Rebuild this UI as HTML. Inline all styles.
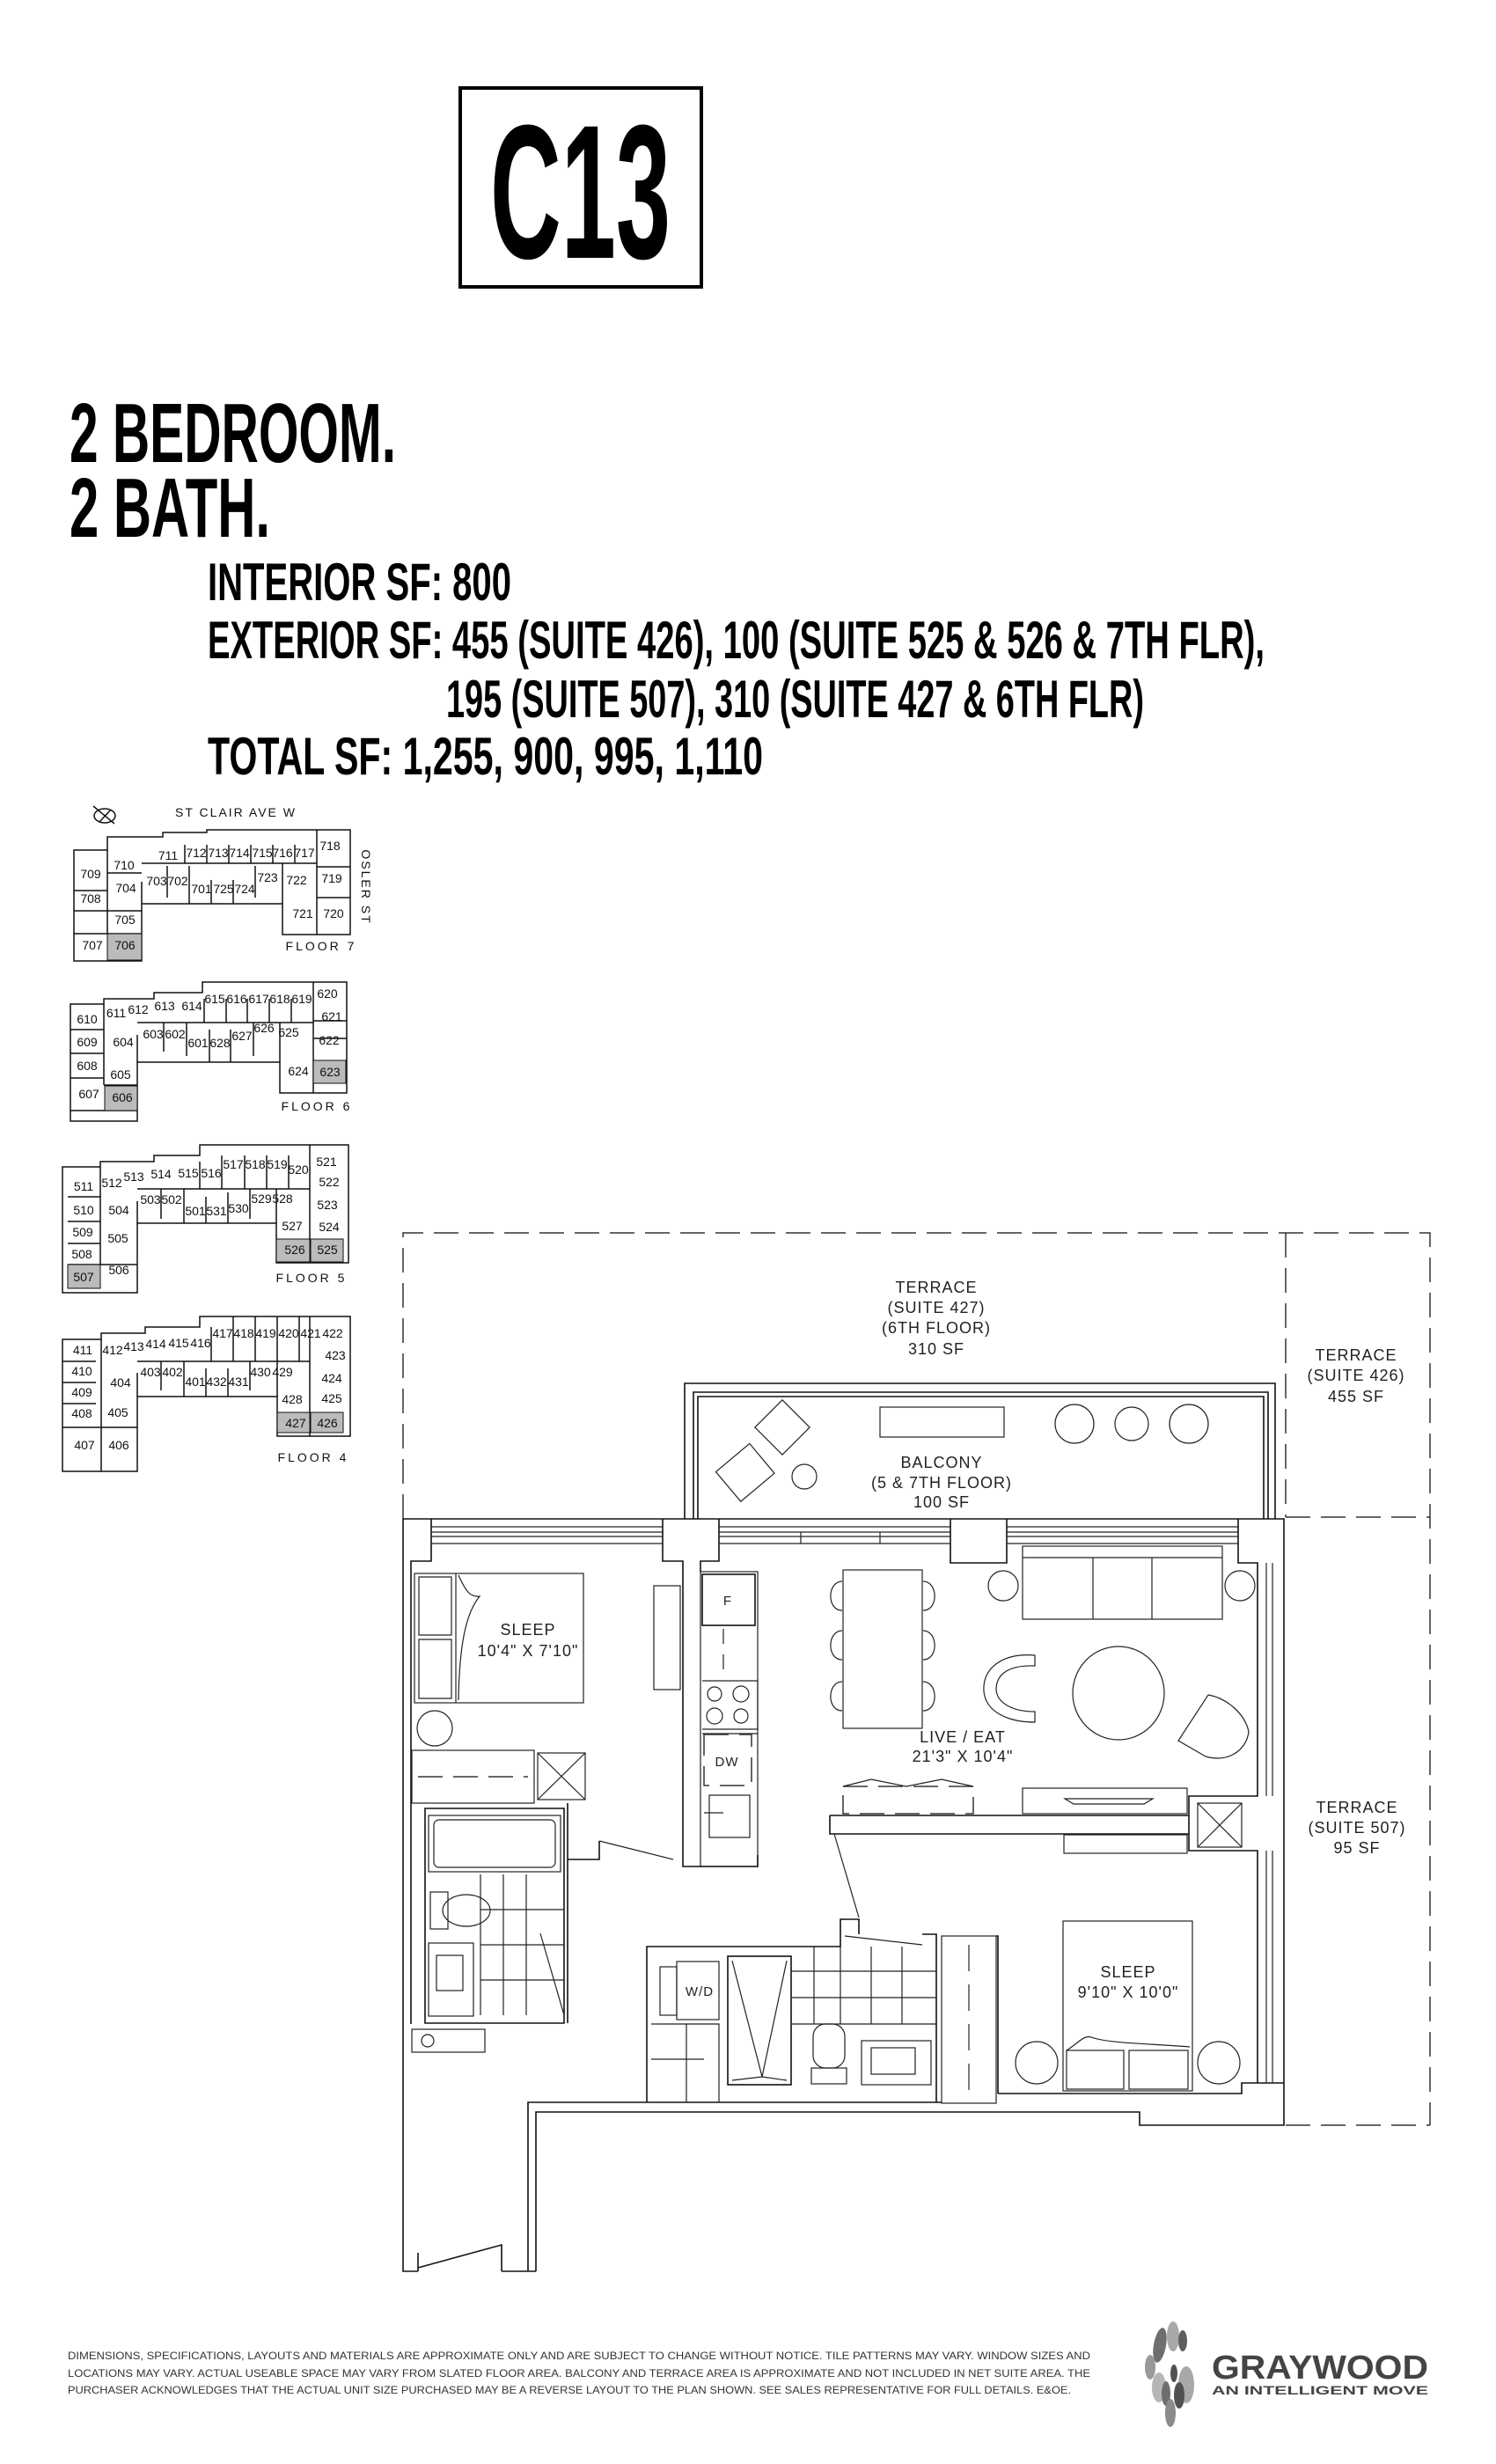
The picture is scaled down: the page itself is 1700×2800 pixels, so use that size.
<!DOCTYPE html>
<html><head><meta charset="utf-8"><style>
html,body{margin:0;padding:0;background:#fff}
svg{display:block}
.h{font-family:"Liberation Sans Narrow","Liberation Sans",sans-serif;font-weight:bold;fill:#000}
.t{font-family:"Liberation Sans Narrow","Liberation Sans",sans-serif;fill:#222;font-size:18px;text-anchor:middle;letter-spacing:1px}
.k{font-family:"Liberation Sans Narrow","Liberation Sans",sans-serif;fill:#111;font-size:14px;text-anchor:middle}
.w{fill:none;stroke:#111;stroke-width:1.6}
.f{fill:none;stroke:#222;stroke-width:1.2}
.d{fill:none;stroke:#333;stroke-width:1.5;stroke-dasharray:28,12}
.kp{fill:none;stroke:#111;stroke-width:1.5}
</style></head><body>
<svg width="1700" height="2800" viewBox="0 0 1700 2800" xmlns="http://www.w3.org/2000/svg">
<rect x="523" y="100" width="274" height="226" fill="none" stroke="#000" stroke-width="4"/>
<text class="h" x="557" y="293" font-size="217" textLength="205" lengthAdjust="spacingAndGlyphs">C13</text>
<text class="h" x="79" y="525" font-size="96" textLength="371" lengthAdjust="spacingAndGlyphs">2 BEDROOM.</text>
<text class="h" x="79" y="610" font-size="96" textLength="228" lengthAdjust="spacingAndGlyphs">2 BATH.</text>
<text class="h" x="236" y="682" font-size="60" textLength="345" lengthAdjust="spacingAndGlyphs">INTERIOR SF: 800</text>
<text class="h" x="236" y="748" font-size="60" textLength="1201" lengthAdjust="spacingAndGlyphs">EXTERIOR SF: 455 (SUITE 426), 100 (SUITE 525 &amp; 526  &amp; 7TH FLR),</text>
<text class="h" x="507" y="815" font-size="60" textLength="793" lengthAdjust="spacingAndGlyphs">195 (SUITE 507), 310 (SUITE 427 &amp; 6TH FLR)</text>
<text class="h" x="236" y="880" font-size="60" textLength="631" lengthAdjust="spacingAndGlyphs">TOTAL SF: 1,255, 900, 995, 1,110</text>

<g>
<ellipse cx="119" cy="927" rx="12" ry="8" class="kp"/><line x1="106" y1="916" x2="130" y2="936" class="kp"/><line x1="113" y1="934" x2="126" y2="920" class="kp"/>
<text class="k" x="268" y="928" font-size="14" letter-spacing="2">ST CLAIR AVE W</text>
<text class="k" x="0" y="0" font-size="14" letter-spacing="2" transform="translate(411,1008) rotate(90)">OSLER ST</text>
<path class="kp" d="M84,966 H122 V951 H185 V946 H235 V943 H398 V1062 H321 V1027 H161 V1092 H84 Z"/>
<path class="kp" d="M122,966 V1061 M161,981 H360 M161,1002 V1027 M321,981 V1027 M360,943 V1062 M84,1012 H122 M84,1035 H122 M84,1061 H161 M360,1020 H398 M360,985 H398 M122,992 H161 M122,1035 H161 M210,960 V981 M235,960 V981 M260,960 V981 M285,960 V981 M310,960 V981 M335,960 V981 M190,984 V1020 M215,984 V1027 M240,1000 V1027 M265,1000 V1027 M290,984 V1020"/>
<rect x="122" y="1061" width="39" height="30" fill="#bbb" stroke="#111"/>
<text class="k" x="103" y="998">709</text><text class="k" x="141" y="988">710</text><text class="k" x="191" y="977">711</text><text class="k" x="223" y="974">712</text><text class="k" x="248" y="974">713</text><text class="k" x="272" y="974">714</text><text class="k" x="298" y="974">715</text><text class="k" x="321" y="974">716</text><text class="k" x="346" y="974">717</text><text class="k" x="375" y="966">718</text><text class="k" x="377" y="1003">719</text><text class="k" x="379" y="1043">720</text><text class="k" x="344" y="1043">721</text><text class="k" x="337" y="1005">722</text><text class="k" x="304" y="1002">723</text><text class="k" x="278" y="1015">724</text><text class="k" x="254" y="1015">725</text><text class="k" x="229" y="1015">701</text><text class="k" x="202" y="1006">702</text><text class="k" x="178" y="1006">703</text><text class="k" x="143" y="1014">704</text><text class="k" x="142" y="1050">705</text><text class="k" x="142" y="1079">706</text><text class="k" x="105" y="1079">707</text><text class="k" x="103" y="1026">708</text>
<text class="k" x="365" y="1080" font-size="15" letter-spacing="3">FLOOR 7</text>

<path class="kp" d="M80,1141 H118 V1135 H175 V1128 H230 V1116 H394 V1242 H318 V1207 H156 V1274 H80 Z"/>
<path class="kp" d="M118,1141 V1233 M156,1162 H356 M156,1176 V1207 M318,1162 V1207 M356,1116 V1242 M80,1170 H118 M80,1197 H118 M80,1225 H118 M118,1233 H156 M356,1160 H394 M356,1180 H394 M80,1262 H156 M232,1135 V1162 M257,1135 V1162 M281,1135 V1162 M306,1135 V1162 M331,1135 V1162 M186,1162 V1195 M212,1162 V1200 M238,1170 V1207 M262,1170 V1207 M288,1162 V1200"/>
<rect x="119" y="1234" width="37" height="28" fill="#bbb" stroke="#111"/>
<rect x="356" y="1205" width="37" height="26" fill="#bbb" stroke="#111"/>
<text class="k" x="99" y="1163">610</text><text class="k" x="132" y="1156">611</text><text class="k" x="157" y="1152">612</text><text class="k" x="187" y="1148">613</text><text class="k" x="218" y="1148">614</text><text class="k" x="244" y="1140">615</text><text class="k" x="269" y="1140">616</text><text class="k" x="294" y="1140">617</text><text class="k" x="318" y="1140">618</text><text class="k" x="343" y="1140">619</text><text class="k" x="372" y="1134">620</text><text class="k" x="377" y="1160">621</text><text class="k" x="374" y="1187">622</text><text class="k" x="375" y="1223">623</text><text class="k" x="339" y="1222">624</text><text class="k" x="328" y="1178">625</text><text class="k" x="300" y="1173">626</text><text class="k" x="275" y="1182">627</text><text class="k" x="250" y="1190">628</text><text class="k" x="225" y="1190">601</text><text class="k" x="199" y="1180">602</text><text class="k" x="174" y="1180">603</text><text class="k" x="140" y="1189">604</text><text class="k" x="137" y="1226">605</text><text class="k" x="139" y="1252">606</text><text class="k" x="101" y="1248">607</text><text class="k" x="99" y="1216">608</text><text class="k" x="99" y="1189">609</text>
<text class="k" x="360" y="1262" font-size="15" letter-spacing="3">FLOOR 6</text>

<path class="kp" d="M71,1326 H114 V1320 H175 V1313 H227 V1301 H396 V1435 H314 V1390 H156 V1469 H71 Z" stroke-width="2.2"/>
<path class="kp" d="M114,1326 V1437 M156,1351 H352 M156,1365 V1390 M314,1351 V1390 M352,1301 V1435 M77,1360 H114 M77,1388 H114 M77,1413 H114 M77,1437 H156 M227,1320 V1351 M252,1313 V1351 M278,1313 V1351 M303,1313 V1351 M328,1313 V1351 M183,1351 V1385 M209,1351 V1390 M234,1360 V1390 M259,1355 V1390 M284,1351 V1385"/>
<rect x="77" y="1437" width="37" height="27" fill="#bbb" stroke="#111"/>
<rect x="314" y="1408" width="38" height="26" fill="#bbb" stroke="#111"/>
<rect x="353" y="1408" width="37" height="26" fill="#bbb" stroke="#111"/>
<text class="k" x="95" y="1353">511</text><text class="k" x="127" y="1349">512</text><text class="k" x="152" y="1342">513</text><text class="k" x="183" y="1339">514</text><text class="k" x="214" y="1338">515</text><text class="k" x="240" y="1338">516</text><text class="k" x="265" y="1328">517</text><text class="k" x="290" y="1328">518</text><text class="k" x="315" y="1328">519</text><text class="k" x="339" y="1334">520</text><text class="k" x="371" y="1325">521</text><text class="k" x="374" y="1348">522</text><text class="k" x="372" y="1374">523</text><text class="k" x="374" y="1399">524</text><text class="k" x="372" y="1425">525</text><text class="k" x="335" y="1425">526</text><text class="k" x="332" y="1398">527</text><text class="k" x="321" y="1367">528</text><text class="k" x="297" y="1367">529</text><text class="k" x="271" y="1378">530</text><text class="k" x="246" y="1381">531</text><text class="k" x="222" y="1381">501</text><text class="k" x="195" y="1368">502</text><text class="k" x="171" y="1368">503</text><text class="k" x="135" y="1380">504</text><text class="k" x="134" y="1412">505</text><text class="k" x="135" y="1448">506</text><text class="k" x="95" y="1456">507</text><text class="k" x="93" y="1430">508</text><text class="k" x="94" y="1405">509</text><text class="k" x="95" y="1380">510</text>
<text class="k" x="354" y="1457" font-size="15" letter-spacing="3">FLOOR 5</text>

<path class="kp" d="M71,1522 H115 V1515 H165 V1508 H227 V1496 H398 V1632 H315 V1587 H156 V1672 H71 Z"/>
<path class="kp" d="M115,1522 V1635 M156,1547 H352 M156,1560 V1587 M315,1547 V1587 M352,1496 V1632 M71,1547 H109 M71,1571 H109 M71,1595 H109 M71,1622 H156 M115,1622 V1672 M240,1508 V1547 M265,1496 V1547 M290,1496 V1547 M315,1496 V1547 M340,1496 V1547 M183,1547 V1580 M209,1547 V1587 M234,1555 V1587 M259,1555 V1587 M284,1547 V1580"/>
<rect x="315" y="1605" width="37" height="23" fill="#bbb" stroke="#111"/>
<rect x="353" y="1605" width="37" height="23" fill="#bbb" stroke="#111"/>
<text class="k" x="94" y="1539">411</text><text class="k" x="93" y="1563">410</text><text class="k" x="93" y="1587">409</text><text class="k" x="93" y="1611">408</text><text class="k" x="96" y="1647">407</text><text class="k" x="135" y="1647">406</text><text class="k" x="134" y="1610">405</text><text class="k" x="137" y="1576">404</text><text class="k" x="128" y="1539">412</text><text class="k" x="152" y="1535">413</text><text class="k" x="177" y="1532">414</text><text class="k" x="203" y="1531">415</text><text class="k" x="228" y="1531">416</text><text class="k" x="253" y="1520">417</text><text class="k" x="277" y="1520">418</text><text class="k" x="302" y="1520">419</text><text class="k" x="328" y="1520">420</text><text class="k" x="353" y="1520">421</text><text class="k" x="378" y="1520">422</text><text class="k" x="381" y="1545">423</text><text class="k" x="377" y="1571">424</text><text class="k" x="377" y="1594">425</text><text class="k" x="372" y="1622">426</text><text class="k" x="336" y="1622">427</text><text class="k" x="332" y="1595">428</text><text class="k" x="321" y="1564">429</text><text class="k" x="296" y="1564">430</text><text class="k" x="271" y="1575">431</text><text class="k" x="246" y="1575">432</text><text class="k" x="222" y="1575">401</text><text class="k" x="196" y="1564">402</text><text class="k" x="171" y="1564">403</text>
<text class="k" x="356" y="1661" font-size="15" letter-spacing="3">FLOOR 4</text>
</g>

<path class="d" d="M458,1726 V1401 H1625 V2415"/>
<path class="d" d="M1461,1401 V1724 M1461,1724 H1625 M1461,2415 H1625"/>
<text class="t" x="1064" y="1469">TERRACE</text><text class="t" x="1064" y="1492">(SUITE 427)</text><text class="t" x="1064" y="1515">(6TH FLOOR)</text><text class="t" x="1064" y="1539">310 SF</text>
<text class="t" x="1541" y="1546">TERRACE</text><text class="t" x="1541" y="1569">(SUITE 426)</text><text class="t" x="1541" y="1593">455 SF</text>
<text class="t" x="1542" y="2060">TERRACE</text><text class="t" x="1542" y="2083">(SUITE 507)</text><text class="t" x="1542" y="2106">95 SF</text>

<path class="w" d="M778,1726 V1572 H1449 V1726 M788,1726 V1582 H1441 V1726 M793,1726 V1587 H1436 V1726"/>
<rect x="1000" y="1599" width="141" height="34" class="f"/>
<rect x="867" y="1600" width="44" height="44" class="f" transform="rotate(45 889 1622)"/>
<rect x="822" y="1652" width="50" height="44" class="f" transform="rotate(-40 846 1674)"/>
<circle cx="914" cy="1678" r="14" class="f"/>
<circle cx="1221" cy="1618" r="22" class="f"/><circle cx="1286" cy="1618" r="19" class="f"/><circle cx="1351" cy="1618" r="22" class="f"/>
<text class="t" x="1070" y="1668">BALCONY</text><text class="t" x="1070" y="1691">(5 &amp; 7TH FLOOR)</text><text class="t" x="1070" y="1713">100 SF</text>

<path class="w" d="M458,1726 H1459 V2415 H1295 V2400 H609 V2581 M458,1726 V2581 H475 M570,2581 H609 M475,2581 V2560 M570,2581 V2551 L475,2577"/>
<path class="w" d="M600,2581 V2389 H1070"/>
<path class="w" d="M490,1726 V1774 H467 V2300"/>
<path class="f" d="M490,1735 H753 M490,1741 H753 M490,1746 H753 M490,1754 H753"/>
<path class="w" d="M753,1726 V1774 H776 V2113 M817,1726 V1774 H796 V1786"/>
<path class="f" d="M817,1735 H1080 M817,1741 H1080 M817,1746 H1080 M817,1754 H1080 M910,1741 V1754 M1000,1741 V1754"/>
<path class="w" d="M1080,1726 V1776 H1144 V1726"/>
<path class="f" d="M1144,1735 H1407 M1144,1741 H1407 M1144,1746 H1407 M1144,1754 H1407"/>
<path class="w" d="M1407,1726 V1776 H1429 V2041 H1351 V2103 H1429 V2367 H1459 M1429,2367 H1411 V2379 H1134"/>
<path class="f" d="M1439,1776 V2041 M1446,1776 V2041 M1439,2103 V2367 M1446,2103 V2367"/>

<rect x="471" y="1788" width="192" height="147" class="f"/>
<path class="f" d="M518,1788 V1935 M476,1792 H513 V1858 H476 Z M476,1863 H513 V1930 H476 Z M521,1790 C530,1810 535,1815 545,1814 C532,1830 522,1860 521,1932"/>
<rect x="743" y="1802" width="30" height="118" class="f"/>
<circle cx="494" cy="1964" r="20" class="f"/>
<text class="t" x="600" y="1858">SLEEP</text><text class="t" x="600" y="1882">10'4" X 7'10"</text>
<rect x="468" y="1989" width="139" height="60" class="f"/>
<line x1="475" y1="2019" x2="600" y2="2019" class="d" stroke-dasharray="16,8"/>
<rect x="611" y="1992" width="54" height="53" class="f"/>
<path class="f" d="M611,1992 L665,2045 M665,1992 L611,2045"/>

<path class="w" d="M483,2055 H641 V2299 H483 Z M645,2049 V2113 H681 V2092 M645,2113 V2299"/>
<line x1="681" y1="2092" x2="765" y2="2113" class="f"/>
<rect x="487" y="2063" width="150" height="64" class="f"/>
<rect x="493" y="2068" width="138" height="54" rx="6" class="f"/>
<rect x="489" y="2150" width="20" height="42" class="f"/><ellipse cx="530" cy="2171" rx="27" ry="18" class="f"/>
<rect x="487" y="2208" width="51" height="83" class="f"/><rect x="496" y="2222" width="30" height="40" class="f"/>
<path class="f" d="M546,2130 V2290 M572,2130 V2290 M598,2130 V2290 M546,2170 H641 M546,2210 H641 M546,2250 H641"/>
<path class="f" d="M614,2197 L641,2290"/>
<rect x="468" y="2306" width="83" height="26" class="f"/><circle cx="486" cy="2319" r="7" class="f"/>

<rect x="796" y="1786" width="65" height="335" class="f"/>
<rect x="798" y="1789" width="60" height="58" class="w"/>
<text class="t" x="827" y="1824" style="font-size:15px">F</text>
<path class="f" d="M822,1851 V1868 M822,1880 V1897 M798,1910 H861 V1965 H798 M798,1970 H861"/>
<circle cx="812" cy="1925" r="8" class="f"/><circle cx="842" cy="1925" r="9" class="f"/><circle cx="812" cy="1950" r="9" class="f"/><circle cx="842" cy="1950" r="8" class="f"/>
<rect x="800" y="1971" width="54" height="58" class="d" stroke-dasharray="8,5" stroke-width="1.2"/>
<text class="t" x="826" y="2007" style="font-size:15px">DW</text>
<rect x="806" y="2040" width="46" height="48" class="f"/><path class="f" d="M800,2060 H822"/>
<path class="w" d="M776,2113 V2121 H861 V2108"/>

<rect x="958" y="1784" width="90" height="180" class="f"/>
<path class="f" d="M957,1797 C940,1797 939,1830 957,1830 M957,1853 C940,1853 939,1886 957,1886 M957,1911 C940,1911 939,1944 957,1944 M1049,1797 C1066,1797 1067,1830 1049,1830 M1049,1853 C1066,1853 1067,1886 1049,1886 M1049,1911 C1066,1911 1067,1944 1049,1944"/>
<rect x="1162" y="1757" width="227" height="83" class="f"/>
<path class="f" d="M1162,1770 H1389 M1242,1770 V1840 M1309,1770 V1840"/>
<circle cx="1140" cy="1802" r="17" class="f"/><circle cx="1409" cy="1802" r="17" class="f"/>
<ellipse cx="1271" cy="1924" rx="52" ry="53" class="f"/>
<path class="f" d="M1176,1881 C1140,1878 1116,1895 1118,1922 C1120,1945 1145,1957 1176,1957 V1945 C1150,1945 1133,1935 1132,1920 C1132,1900 1150,1892 1176,1893 Z"/>
<path class="f" d="M1373,1926 C1395,1930 1415,1948 1419,1968 C1416,1990 1395,2003 1370,1996 L1339,1978 Z"/>
<text class="t" x="1094" y="1980">LIVE / EAT</text><text class="t" x="1094" y="2002">21'3" X 10'4"</text>
<rect x="958" y="2030" width="148" height="31" class="d" stroke-dasharray="6,4" stroke-width="1.1"/>
<path class="f" d="M958,2030 L990,2022 L1030,2030 L1070,2022 L1106,2030"/>
<rect x="1162" y="2032" width="187" height="29" class="f"/>
<path class="f" d="M1210,2044 H1310 L1300,2050 H1220 Z"/>
<path class="w" d="M943,2063 H1351 M943,2063 V2084 H1351"/>
<rect x="1361" y="2049" width="50" height="50" class="f"/><path class="f" d="M1361,2049 L1411,2099 M1411,2049 L1361,2099"/>
<rect x="1209" y="2085" width="140" height="21" class="f"/>
<path class="f" d="M948,2084 L976,2179"/>

<path class="w" d="M735,2389 V2212 H955 V2181 H976 V2198 M1048,2198 H1064 V2389 M1132,2200 H1134 V2379"/>
<path class="f" d="M960,2200 L1048,2210"/>
<rect x="769" y="2229" width="48" height="66" class="f"/><text class="t" x="795" y="2268" style="font-size:15px">W/D</text>
<rect x="750" y="2235" width="19" height="55" class="f"/>
<path class="f" d="M740,2300 H817 V2389 M740,2340 H800 M780,2300 V2389"/>
<rect x="827" y="2223" width="72" height="146" class="w"/>
<path class="f" d="M832,2228 L866,2360 L894,2228 M832,2364 L866,2360 L894,2364"/>
<path class="f" d="M899,2240 H1064 M899,2270 H1064 M899,2300 H1064 M925,2212 V2300 M955,2212 V2300 M990,2212 V2300 M1025,2212 V2300"/>
<rect x="924" y="2300" width="36" height="50" rx="14" class="f"/><rect x="922" y="2350" width="40" height="18" class="f"/>
<rect x="979" y="2319" width="79" height="50" class="f"/><rect x="990" y="2327" width="50" height="30" class="f"/>
<rect x="1070" y="2200" width="62" height="190" class="f"/><path class="f" d="M1101,2210 V2240 M1101,2255 V2285 M1101,2300 V2330 M1101,2345 V2375"/>
<rect x="1208" y="2183" width="147" height="193" class="f"/>
<path class="f" d="M1212,2330 C1225,2322 1232,2312 1240,2315 C1260,2322 1300,2322 1352,2326"/>
<rect x="1212" y="2330" width="65" height="44" class="f"/><rect x="1283" y="2330" width="67" height="44" class="f"/>
<circle cx="1178" cy="2344" r="24" class="f"/><circle cx="1385" cy="2344" r="24" class="f"/>
<text class="t" x="1282" y="2247">SLEEP</text><text class="t" x="1282" y="2270">9'10" X 10'0"</text>

<g font-family="'Liberation Sans Narrow','Liberation Sans',sans-serif" font-size="12" fill="#333">
<text x="77" y="2681" textLength="1162" lengthAdjust="spacingAndGlyphs">DIMENSIONS, SPECIFICATIONS, LAYOUTS AND MATERIALS ARE APPROXIMATE ONLY AND ARE SUBJECT TO CHANGE WITHOUT NOTICE. TILE PATTERNS MAY VARY. WINDOW SIZES AND</text>
<text x="77" y="2701" textLength="1162" lengthAdjust="spacingAndGlyphs">LOCATIONS MAY VARY. ACTUAL USEABLE SPACE MAY VARY FROM SLATED FLOOR AREA. BALCONY AND TERRACE AREA IS APPROXIMATE AND NOT INCLUDED IN NET SUITE AREA. THE</text>
<text x="77" y="2720" textLength="1140" lengthAdjust="spacingAndGlyphs">PURCHASER ACKNOWLEDGES THAT THE ACTUAL UNIT SIZE PURCHASED MAY BE A REVERSE LAYOUT TO THE PLAN SHOWN. SEE SALES REPRESENTATIVE FOR FULL DETAILS. E&amp;OE.</text>
</g>
<g opacity="0.85">
<ellipse cx="1318" cy="2665" rx="7" ry="20" fill="#555" transform="rotate(10 1318 2665)"/>
<ellipse cx="1333" cy="2655" rx="7" ry="17" fill="#999"/>
<ellipse cx="1344" cy="2660" rx="5" ry="12" fill="#444"/>
<ellipse cx="1307" cy="2690" rx="6" ry="14" fill="#888"/>
<ellipse cx="1334" cy="2697" rx="4" ry="10" fill="#333"/>
<ellipse cx="1348" cy="2710" rx="9" ry="21" fill="#999"/>
<ellipse cx="1317" cy="2713" rx="8" ry="17" fill="#aaa"/>
<ellipse cx="1325" cy="2720" rx="5" ry="14" fill="#555"/>
<ellipse cx="1340" cy="2722" rx="6" ry="15" fill="#333"/>
<ellipse cx="1330" cy="2742" rx="6" ry="16" fill="#777"/>
</g>
<text x="1377" y="2703" font-family="'Liberation Sans',sans-serif" font-weight="bold" font-size="38" fill="#444" textLength="246" lengthAdjust="spacingAndGlyphs">GRAYWOOD</text>
<text x="1377" y="2721" font-family="'Liberation Sans',sans-serif" font-weight="bold" font-size="14" fill="#444" textLength="246" lengthAdjust="spacingAndGlyphs">AN INTELLIGENT MOVE</text>
</svg>
</body></html>
